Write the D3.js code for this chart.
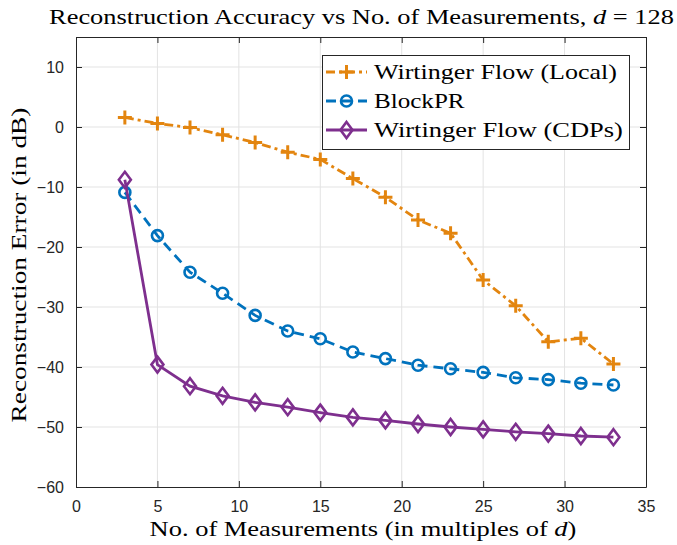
<!DOCTYPE html>
<html>
<head>
<meta charset="utf-8">
<script src="https://cdn.jsdelivr.net/npm/d3@7"></script>
<style>
  body { margin: 0; background: #fff; }
  svg { display: block; }
</style>
</head>
<body>
<svg id="chart"></svg>
<script>
// podatki z grafa
const measurements = [3, 5, 7, 9, 11, 13, 15, 17, 19, 21, 23, 25, 27, 29, 31, 33];
const wfLocal = [1.6, 0.6, -0.1, -1.3, -2.6, -4.2, -5.4, -8.6, -11.7, -15.5, -17.7, -25.5, -29.8, -35.8, -35.2, -39.5];
const blockPR = [-10.9, -18.1, -24.2, -27.7, -31.4, -34.0, -35.3, -37.5, -38.6, -39.7, -40.3, -40.9, -41.8, -42.1, -42.7, -43.0];
const wfCDP = [-8.8, -39.6, -43.2, -44.8, -45.9, -46.7, -47.6, -48.4, -48.9, -49.5, -50.0, -50.4, -50.8, -51.1, -51.5, -51.7];
const seriesNames = ["Wirtinger Flow (Local)", "BlockPR", "Wirtinger Flow (CDPs)"];
const xTicks = [0, 5, 10, 15, 20, 25, 30, 35];
const yTicks = [-60, -50, -40, -30, -20, -10, 0, 10];

const width = 677, height = 545;
const pLeft = 76, pRight = 646, pTop = 37, pBottom = 487;

const svg = d3.select("#chart").attr("width", width).attr("height", height);

const x = d3.scaleLinear().domain([0, 35]).range([pLeft, pRight]);
const y = d3.scaleLinear().domain([-60, 15]).range([pBottom, pTop]);

const axisColor = "#262626";
const serif = "'Liberation Serif', 'DejaVu Serif', serif";
const sans = "'Liberation Sans', Arial, sans-serif";

// raztegni besedilo na želeno širino (LaTeX pisava je širša)
function fitWidth(sel, target, base) {
  const w = sel.node().getBBox().width;
  sel.attr("transform", `${base} scale(${target / w},1)`);
}

// mreža
svg.append("g").selectAll("line").data(xTicks.slice(1, -1)).join("line")
  .attr("x1", d => x(d)).attr("x2", d => x(d)).attr("y1", pTop).attr("y2", pBottom)
  .attr("stroke", "#e3e3e3").attr("stroke-width", 1);
svg.append("g").selectAll("line").data(yTicks.slice(1)).join("line")
  .attr("x1", pLeft).attr("x2", pRight).attr("y1", d => y(d)).attr("y2", d => y(d))
  .attr("stroke", "#e3e3e3").attr("stroke-width", 1);

// osi (MATLAB slog, kljukice navznoter)
const tickLen = 6;
const xAxisB = d3.axisBottom(x).tickValues(xTicks).tickSizeInner(-tickLen).tickSizeOuter(0).tickPadding(14);
const xAxisT = d3.axisTop(x).tickValues(xTicks).tickSizeInner(-tickLen).tickSizeOuter(0).tickFormat("");
const yAxisL = d3.axisLeft(y).tickValues(yTicks).tickSizeInner(-tickLen).tickSizeOuter(0).tickPadding(12);
const yAxisR = d3.axisRight(y).tickValues(yTicks).tickSizeInner(-tickLen).tickSizeOuter(0).tickFormat("");

function styleAxis(g) {
  g.selectAll("path").attr("stroke", axisColor).attr("stroke-width", 1);
  g.selectAll("line").attr("stroke", axisColor).attr("stroke-width", 1);
  g.selectAll("text").attr("fill", "#262626").style("font-family", sans).style("font-size", "16px");
}
svg.append("g").attr("transform", `translate(0,${pBottom})`).call(xAxisB).call(styleAxis);
svg.append("g").attr("transform", `translate(0,${pTop})`).call(xAxisT).call(styleAxis);
svg.append("g").attr("transform", `translate(${pLeft},0)`).call(yAxisL).call(styleAxis);
svg.append("g").attr("transform", `translate(${pRight},0)`).call(yAxisR).call(styleAxis);

// serije
const series = [
  { name: seriesNames[0], values: wfLocal, color: "#e3850f", dash: "9,4,3,4", marker: "plus", tw: 243 },
  { name: seriesNames[1], values: blockPR, color: "#0072bd", dash: "10,6", marker: "circle", tw: 91 },
  { name: seriesNames[2], values: wfCDP, color: "#7e2f8e", dash: null, marker: "diamond", tw: 249 }
];

const line = d3.line().x(d => x(d[0])).y(d => y(d[1]));

function drawMarker(g, type, cx, cy, color) {
  if (type === "plus") {
    g.append("path").attr("d", `M${cx - 7},${cy}H${cx + 7}M${cx},${cy - 7}V${cy + 7}`)
      .attr("stroke", color).attr("stroke-width", 3).attr("fill", "none");
  } else if (type === "circle") {
    g.append("circle").attr("cx", cx).attr("cy", cy).attr("r", 5.5)
      .attr("stroke", color).attr("stroke-width", 2.6).attr("fill", "none");
  } else {
    g.append("path").attr("d", `M${cx},${cy - 8}L${cx + 6},${cy}L${cx},${cy + 8}L${cx - 6},${cy}Z`)
      .attr("stroke", color).attr("stroke-width", 2.6).attr("fill", "none");
  }
}

series.forEach(s => {
  const pts = measurements.map((m, i) => [m, s.values[i]]);
  const g = svg.append("g");
  g.append("path").datum(pts).attr("d", line)
    .attr("fill", "none").attr("stroke", s.color).attr("stroke-width", 2.8)
    .attr("stroke-dasharray", s.dash);
  pts.forEach(p => drawMarker(g, s.marker, x(p[0]), y(p[1]), s.color));
});

// legenda
const lg = svg.append("g");
lg.append("rect").attr("x", 322.5).attr("y", 55.5).attr("width", 307).attr("height", 94)
  .attr("fill", "#fff").attr("stroke", axisColor).attr("stroke-width", 1);
series.forEach((s, i) => {
  const cy = 72 + i * 29;
  lg.append("line").attr("x1", 326).attr("x2", 367).attr("y1", cy).attr("y2", cy)
    .attr("stroke", s.color).attr("stroke-width", 2.8).attr("stroke-dasharray", s.dash);
  drawMarker(lg, s.marker, 346.5, cy, s.color);
  const t = lg.append("text").attr("x", 0).attr("y", 0).text(s.name)
    .style("font-family", serif).style("font-size", "22px").attr("fill", "#000");
  fitWidth(t, s.tw, `translate(374,${cy + 7})`);
});

// naslovi
const title = svg.append("text").attr("text-anchor", "middle")
  .style("font-family", serif).style("font-size", "22px").attr("fill", "#000")
  .html("Reconstruction Accuracy vs No. of Measurements, <tspan font-style='italic'>d</tspan> = 128");
fitWidth(title, 625, "translate(361.5,24)");

const xLabel = svg.append("text").attr("text-anchor", "middle")
  .style("font-family", serif).style("font-size", "21px").attr("fill", "#000")
  .html("No. of Measurements (in multiples of <tspan font-style='italic'>d</tspan>)");
fitWidth(xLabel, 427, "translate(363,536)");

const yLabel = svg.append("text").attr("text-anchor", "middle")
  .style("font-family", serif).style("font-size", "21px").attr("fill", "#000")
  .text("Reconstruction Error (in dB)");
fitWidth(yLabel, 315, "translate(26,265) rotate(-90)");
</script>
</body>
</html>
